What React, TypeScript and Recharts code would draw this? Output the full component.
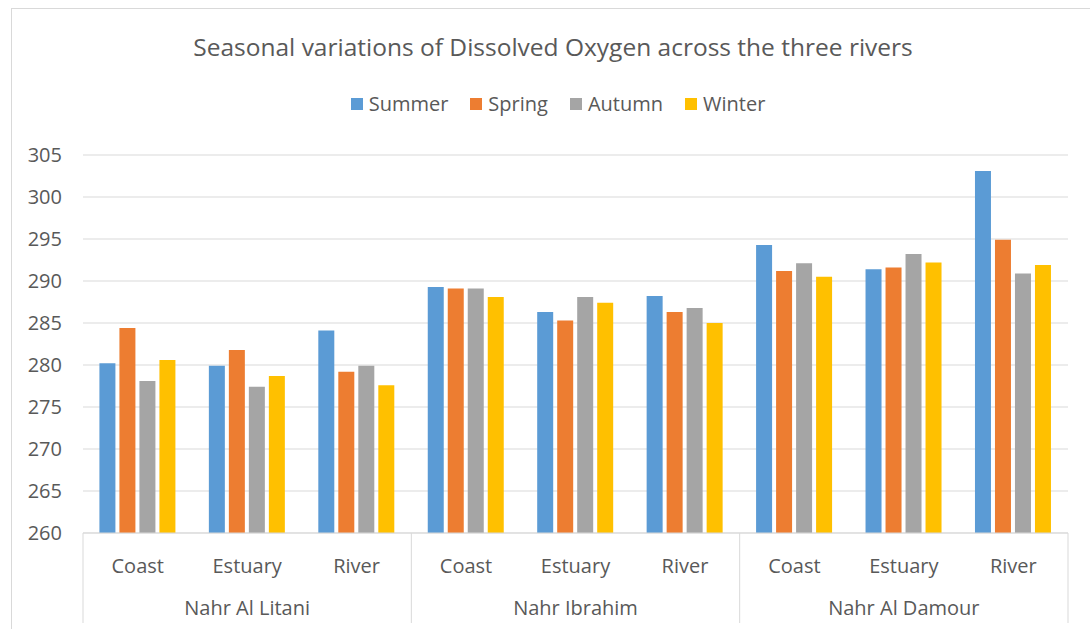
import { BarChart, Bar, XAxis, YAxis, CartesianGrid, Legend } from "recharts"

const rivers = ["Nahr Al Litani", "Nahr Ibrahim", "Nahr Al Damour"]
const sites = ["Coast", "Estuary", "River"]
const seasons = ["Summer", "Spring", "Autumn", "Winter"]
const seasonColors = ["#5B9BD5", "#ED7D31", "#A5A5A5", "#FFC000"]

// one value per river/site, in order Litani (C,E,R), Ibrahim (C,E,R), Damour (C,E,R)
const summer = [280.2, 279.9, 284.1, 289.3, 286.3, 288.2, 294.3, 291.4, 303.1]
const spring = [284.4, 281.8, 279.2, 289.1, 285.3, 286.3, 291.2, 291.6, 294.9]
const autumn = [278.1, 277.4, 279.9, 289.1, 288.1, 286.8, 292.1, 293.2, 290.9]
const winter = [280.6, 278.7, 277.6, 288.1, 287.4, 285.0, 290.5, 292.2, 291.9]
const yTicks = [260, 265, 270, 275, 280, 285, 290, 295, 300, 305]

const seriesValues = [summer, spring, autumn, winter]

const data = rivers.flatMap((river, ri) =>
  sites.map((site, si) => {
    const i = ri * sites.length + si
    const row: any = { key: `${river}|${site}`, river, site }
    seasons.forEach((s, k) => { row[s] = seriesValues[k][i] })
    return row
  })
)

const W = 1090
const H = 629
const MARGIN = { top: 155, right: 22, bottom: 0, left: 13 }
const Y_W = 70
const PLOT_W = W - MARGIN.left - MARGIN.right - Y_W
const TEXT = "#595959"
const LINE = "#d9d9d9"
const FONT = "'Open Sans', sans-serif"

function SiteTick(props: any) {
  const { x, y, index } = props
  const row = data[index]
  const band = PLOT_W / data.length
  const pos = index % sites.length
  return (
    <g>
      <text x={x} y={y + 32} textAnchor="middle" dominantBaseline="central" fill={TEXT} fontSize={20}>
        {row.site}
      </text>
      {pos === 1 && (
        <text x={x} y={y + 74} textAnchor="middle" dominantBaseline="central" fill={TEXT} fontSize={20}>
          {row.river}
        </text>
      )}
      {pos === 0 && (
        <line x1={x - band / 2} x2={x - band / 2} y1={y} y2={y + 90} stroke={LINE} />
      )}
      {index === data.length - 1 && (
        <line x1={x + band / 2} x2={x + band / 2} y1={y} y2={y + 90} stroke={LINE} />
      )}
    </g>
  )
}

function SeasonLegend(props: any) {
  const items = [...(props.payload || [])].sort(
    (a: any, b: any) => seasons.indexOf(a.value) - seasons.indexOf(b.value)
  )
  return (
    <div style={{ display: "flex", justifyContent: "center", gap: 22 }}>
      {items.map((p: any) => (
        <div key={p.value} style={{ display: "flex", alignItems: "center", gap: 6 }}>
          <span style={{ width: 12, height: 12, background: p.color, display: "inline-block" }} />
          <span style={{ fontSize: 20, color: TEXT }}>{p.value}</span>
        </div>
      ))}
    </div>
  )
}

export default function App() {
  return (
    <div style={{ position: "absolute", left: 0, top: 0, width: W, height: H, overflow: "hidden", background: "#fff", fontFamily: FONT }}>
      <div style={{ position: "absolute", left: 11, top: 8, width: W + 20, height: H + 20, border: `1px solid ${LINE}` }} />

      <div style={{ position: "absolute", top: 30, left: 11, width: 1084, textAlign: "center", fontSize: 24.5, color: TEXT }}>
        Seasonal variations of Dissolved Oxygen across the three rivers
      </div>

      <div style={{ position: "absolute", left: 0, top: 0 }}>
        <BarChart
          width={W}
          height={H}
          data={data}
          margin={MARGIN}
          barCategoryGap="15%"
          barGap={4}
        >
          <CartesianGrid vertical={false} stroke={LINE} />

          <XAxis
            dataKey="key"
            interval={0}
            height={H - 533}
            tickLine={false}
            tickSize={0}
            tickMargin={0}
            axisLine={{ stroke: LINE }}
            tick={SiteTick}
          />
          <YAxis
            width={Y_W}
            domain={[260, 305]}
            ticks={yTicks}
            axisLine={false}
            tickLine={false}
            tickMargin={15}
            tick={{ fill: TEXT, fontSize: 20 }}
          />

          <Legend
            verticalAlign="middle"
            layout="horizontal"
            itemSorter={null as any}
            wrapperStyle={{ top: 90, left: 13, width: W }}
            content={SeasonLegend}
          />

          {seasons.map((s, k) => (
            <Bar key={s} dataKey={s} fill={seasonColors[k]} isAnimationActive={false} />
          ))}
        </BarChart>
      </div>
    </div>
  )
}
